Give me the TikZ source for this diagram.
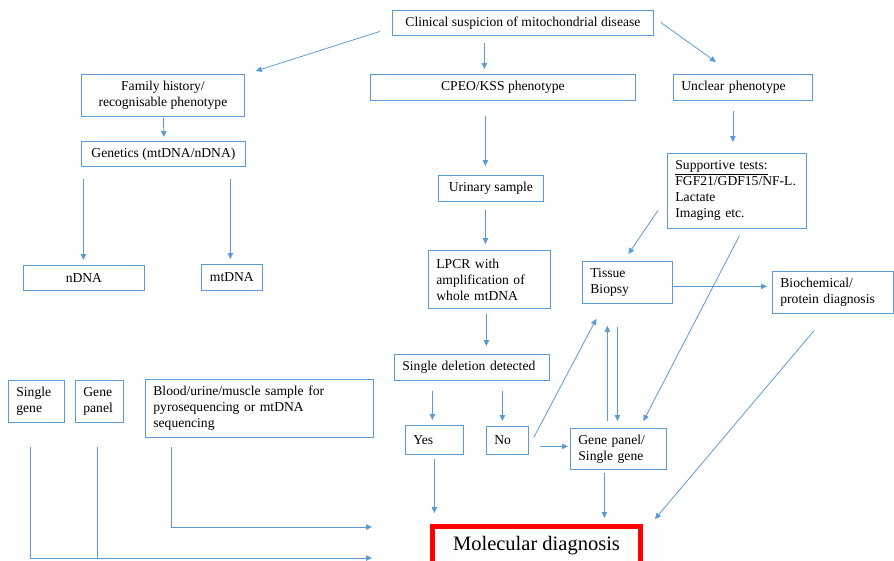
\documentclass[tikz,border=0pt]{standalone}
\usepackage{fontspec}
\setmainfont{Liberation Serif}
\usetikzlibrary{calc,arrows.meta}
\definecolor{bblue}{HTML}{5B9BD5}
\definecolor{ablue}{HTML}{5B9BD5}
\begin{document}
\begin{tikzpicture}[x=1pt,y=-1pt,
  box/.style={draw=bblue, line width=0.8pt, inner xsep=8pt, inner ysep=0pt,
    font=\fontsize{13.6}{16}\selectfont, anchor=north west},
  lbox/.style={box, align=left},
  cbox/.style={box, align=center},
  arr/.style={draw=ablue, line width=0.8pt, -{Triangle[length=6pt,width=5.5pt]}},
  ln/.style={draw=ablue, line width=0.8pt}]
\useasboundingbox (0,0) rectangle (894,560);
\clip (0,0) rectangle (894,560);

% nodes
\node[cbox, minimum width=261pt, minimum height=25pt] (clin) at (392,10) {Clinical suspicion of mitochondrial disease};
\node[cbox, minimum width=163pt, minimum height=42pt] (fam) at (81,74) {Family history/\\recognisable phenotype};
\node[cbox, minimum width=164pt, minimum height=25pt] (gen) at (81,141) {Genetics (mtDNA/nDNA)};
\node[cbox, minimum width=265pt, minimum height=26pt] (cpeo) at (370,74) {CPEO/KSS phenotype};
\node[lbox, minimum width=139pt, text width=123pt, minimum height=26pt] (uncl) at (673,74) {Unclear phenotype};
\node[cbox, minimum width=105pt, minimum height=26pt] (urin) at (438,175) {Urinary sample};
\node[lbox, minimum width=139pt, text width=123pt, minimum height=75pt] (supp) at (667,153) {\underline{Supportive tests:}\\FGF21/GDF15/NF-L.\\Lactate\\Imaging etc.};
\node[cbox, minimum width=121pt, minimum height=25pt] (ndna) at (23,265) {nDNA};
\node[cbox, minimum width=61pt, minimum height=26pt] (mtdna) at (201,264) {mtDNA};
\node[lbox, minimum width=122pt, text width=106pt, minimum height=58pt] (lpcr) at (428,250) {LPCR with\\amplification of\\whole mtDNA};
\node[lbox, minimum width=90pt, text width=74pt, minimum height=42pt] (tiss) at (582,261) {Tissue\\Biopsy};
\node[lbox, minimum width=121pt, text width=105pt, minimum height=42pt] (bioc) at (772,271) {Biochemical/\\protein diagnosis};
\node[lbox, minimum width=155pt, text width=139pt, minimum height=26pt] (sdel) at (394,354) {Single deletion detected};
\node[lbox, minimum width=58pt, text width=42pt, minimum height=29pt] (yes) at (405,425) {Yes};
\node[lbox, minimum width=42pt, text width=26pt, minimum height=28pt] (no) at (486,426) {No};
\node[lbox, minimum width=96pt, text width=80pt, minimum height=41pt] (gpsg) at (570,428) {Gene panel/\\Single gene};
\node[lbox, minimum width=56pt, text width=40pt, minimum height=42pt] (sg) at (8,380) {Single\\gene};
\node[lbox, minimum width=48pt, text width=32pt, minimum height=42pt] (gp) at (75,380) {Gene\\panel};
\node[lbox, minimum width=228pt, text width=212pt, minimum height=58pt] (blood) at (145,379) {Blood/urine/muscle sample for\\pyrosequencing or mtDNA\\sequencing};
\node[draw=red, line width=5pt, inner sep=0pt, minimum width=208pt, minimum height=37.5pt,
  anchor=north, font=\fontsize{20.5}{24}\selectfont] (mol) at (536.5,524) {Molecular diagnosis};

% connectors
\draw[arr] ($(clin.west)+(-12,8.5)$) -- ($(fam.north east)+(11,-3)$);
\draw[arr] ($(clin.south)+(-38.5,7)$) -- ($(cpeo.north)+(-18.5,-5)$);
\draw[arr] ($(clin.east)+(7,-0.5)$) -- ($(uncl.north west)+(43,-12)$);
\draw[arr] ($(fam.south)+(0.5,1)$) -- ($(gen.north)+(0.5,-4)$);
\draw[arr] ($(ndna.north |- gen.south)+(-0.5,12)$) -- ($(ndna.north)+(-0.5,-5)$);
\draw[arr] ($(mtdna.north |- gen.south)+(-1.5,12)$) -- ($(mtdna.north)+(-1.5,-5)$);
\draw[arr] ($(urin.north |- cpeo.south)+(-5.5,15)$) -- ($(urin.north)+(-5.5,-9)$);
\draw[arr] ($(supp.north |- uncl.south)+(-4,10)$) -- ($(supp.north)+(-4,-11)$);
\draw[arr] ($(lpcr.north |- urin.south)+(-4,8)$) -- ($(lpcr.north)+(-4,-6)$);
\draw[arr] ($(supp.west)+(-9,19.5)$) -- ($(tiss.north)+(1,-7)$);
\draw[arr] ($(supp.south)+(2.5,7)$) -- ($(gpsg.north)+(25,-7)$);
\draw[arr] ($(tiss.east)+(0,4)$) -- ($(tiss.east -| bioc.west)+(-5,4)$);
\draw[arr] ($(lpcr.south)+(-3,5)$) -- ($(lpcr.south |- sdel.north)+(-3,-8)$);
\draw[arr] ($(yes.north |- sdel.south)+(-2,10)$) -- ($(yes.north)+(-2,-5)$);
\draw[arr] ($(no.north |- sdel.south)+(-5,10)$) -- ($(no.north)+(-5,-5)$);
\draw[arr] ($(no.east)+(5,-3)$) -- ($(tiss.south)+(-31,15)$);
\draw[arr] ($(no.east)+(11,6)$) -- ($(no.east -| gpsg.west)+(-2,6)$);
\draw[arr] ($(gpsg.north)+(-11,-7)$) -- ($(gpsg.north |- tiss.south)+(-11,22)$);
\draw[arr] ($(gpsg.north |- tiss.south)+(-1,23)$) -- ($(gpsg.north)+(-1,-7)$);
\draw[arr] ($(gpsg.south)+(-14,3)$) -- ($(gpsg.south |- mol.north)+(-14,-6)$);
\draw[arr] ($(bioc.south)+(-19,17)$) -- ($(mol.north east)+(12,-5)$);
\draw[arr] ($(yes.south)+(0,4)$) -- ($(yes.south |- mol.north)+(0,-11)$);
\draw[arr] ($(blood.south west)+(26,9)$) |- ($(mol.north west)+(-58,3)$);
\draw[arr] ($(sg.south west)+(22,24)$) |- ($(mol.north west)+(-58,34)$);
\draw[ln] ($(gp.south west)+(22,24)$) -- ($(gp.south west)+(22,136)$);
\end{tikzpicture}
\end{document}
